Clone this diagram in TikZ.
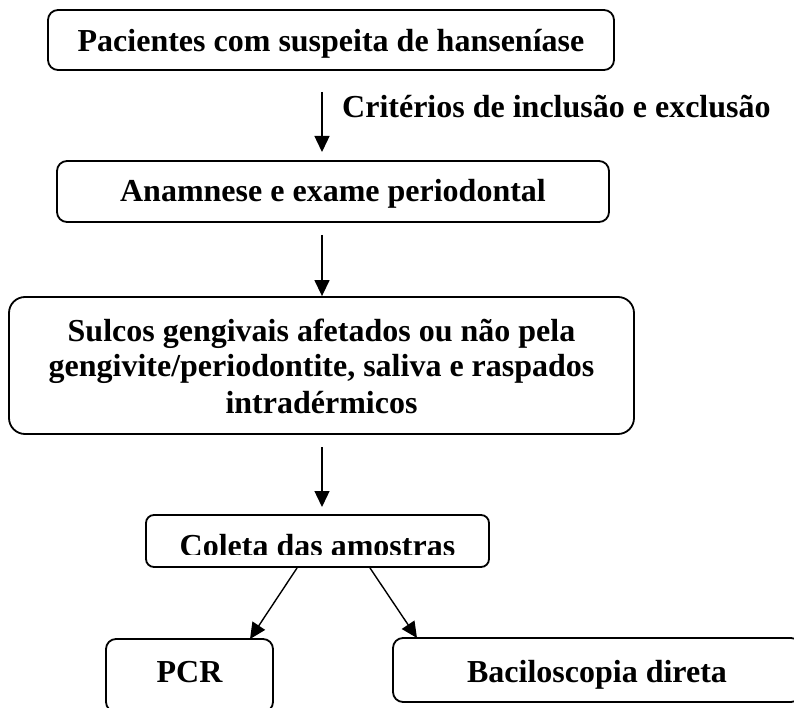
\documentclass[tikz,border=0pt]{standalone}
\usepackage{fontspec}
\setmainfont{Liberation Serif}
\usetikzlibrary{arrows.meta}
\begin{document}
\begin{tikzpicture}[x=1pt,y=-1pt,
  box/.style={draw=black, line width=1.8pt, inner sep=0pt, fill=none},
  txt/.style={anchor=base, inner sep=0pt, font=\bfseries\fontsize{32}{35}\selectfont},
  arr/.style={line width=1.4pt, -{Triangle[length=16pt,width=15pt]}}]
\useasboundingbox (0,0) rectangle (794,708);
\clip (0,0) rectangle (794,708);
% boxes
\node[box, rounded corners=10pt, minimum width=566pt, minimum height=60pt] (b1) at (331,40) {};
\node[box, rounded corners=10pt, minimum width=552pt, minimum height=61pt] (b2) at (333,191.5) {};
\node[box, rounded corners=16pt, minimum width=625pt, minimum height=137pt] (b3) at (321.5,365.5) {};
\node[box, rounded corners=8pt, minimum width=343pt, minimum height=52pt] (b4) at (317.5,541) {};
\node[box, rounded corners=10pt, minimum width=167pt, minimum height=73pt] (b5) at (189.5,675.5) {};
\node[box, rounded corners=10pt, minimum width=408pt, minimum height=64pt] (b6) at (597,670) {};
% texts
\node[txt] (t1) at (331,52) {Pacientes com suspeita de hanseníase};
\node[txt, anchor=base west] (tl) at (342,118) {Critérios de inclusão e exclusão};
\node[txt] (t2) at (333,202) {Anamnese e exame periodontal};
\node[txt] (t3a) at (321.5,341) {Sulcos gengivais afetados ou não pela};
\node[txt] (t3b) at (321.5,376) {gengivite/periodontite, saliva e raspados};
\node[txt] (t3c) at (321.5,413) {intradérmicos};
\begin{scope}
\clip (146,515) rectangle (489,554);
\node[txt] (t4) at (317.5,556) {Coleta das amostras};
\end{scope}
\node[txt] (t5) at (189.5,682) {PCR};
\node[txt] (t6) at (597,682) {Baciloscopia direta};
% connector end points
\coordinate (a1s) at (322,92);
\coordinate (a1e) at (322,152);
\coordinate (a2s) at (322,235);
\coordinate (a3s) at (322,447);
\coordinate (a3e) at (322,507);
\coordinate (a4s) at (297,568);
\coordinate (a4e) at (250,639);
\coordinate (a5s) at (370,568);
\coordinate (a5e) at (417,638);
% connectors
\draw[arr] (a1s) -- (a1e);
\draw[arr] (a2s) -- (a2s |- b3.north);
\draw[arr] (a3s) -- (a3e);
\draw[arr] (a4s) -- (a4e);
\draw[arr] (a5s) -- (a5e);
\end{tikzpicture}
\end{document}
